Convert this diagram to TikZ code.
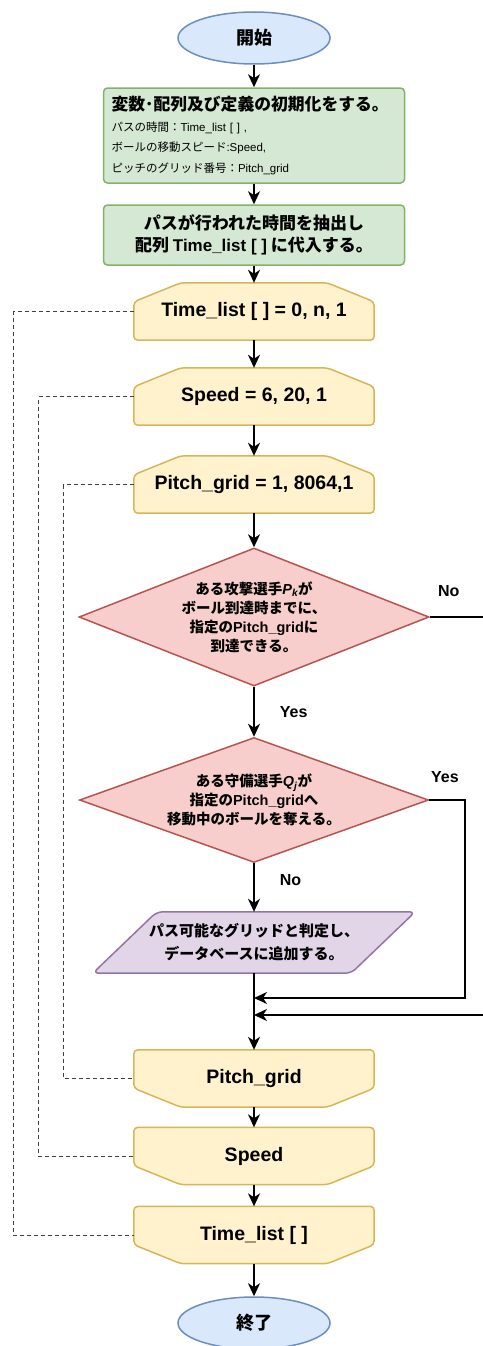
\documentclass[tikz,border=0pt]{standalone}
\usepackage{fontspec}
\setmainfont{Liberation Sans}
\newfontfamily\jp{Noto Sans CJK JP}
\usetikzlibrary{shapes.geometric,arrows.meta,calc,backgrounds}
\definecolor{gfill}{HTML}{D5E8D4}\definecolor{gstroke}{HTML}{82B366}
\definecolor{yfill}{HTML}{FFF2CC}\definecolor{ystroke}{HTML}{D6B656}
\definecolor{rfill}{HTML}{F8CECC}\definecolor{rstroke}{HTML}{B85450}
\definecolor{pfill}{HTML}{E1D5E7}\definecolor{pstroke}{HTML}{9673A6}
\definecolor{bfill}{HTML}{DAE8FC}\definecolor{bstroke}{HTML}{6C8EBF}
\tikzset{
  term/.style={ellipse, draw=bstroke, fill=bfill, line width=1.5pt, minimum width=152pt, minimum height=52pt, inner sep=0pt, font=\jp\bfseries\fontsize{18}{20}\selectfont},
  proc/.style={rectangle, rounded corners=4pt, draw=gstroke, fill=gfill, line width=1.5pt, minimum width=301pt, inner sep=0pt},
  loopbox/.style={rectangle, minimum width=240pt, minimum height=57pt, inner sep=0pt, font=\bfseries\fontsize{19.5}{21}\selectfont},
  loopshape/.style={draw=ystroke, fill=yfill, line width=1.5pt, rounded corners=4pt},
  dec/.style={diamond, draw=rstroke, fill=rfill, line width=1.5pt, inner sep=0pt, aspect=2.6, align=center, font=\jp\bfseries\fontsize{14.5}{19}\selectfont},
  dbbox/.style={rectangle, minimum width=258pt, minimum height=61pt, inner sep=0pt, align=center, font=\jp\bfseries\fontsize{15}{23}\selectfont},
  dbshape/.style={draw=pstroke, fill=pfill, line width=1.5pt, rounded corners=6pt},
  flow/.style={line width=1.8pt, -{Stealth[length=13pt,width=12pt,inset=4pt]}},
  loopline/.style={dash pattern=on 4pt off 3pt, line width=1pt, draw=black!75},
  lab/.style={font=\bfseries\fontsize{16}{18}\selectfont, inner sep=0pt}
}
\begin{document}
\begin{tikzpicture}[x=1pt,y=-1pt]
\useasboundingbox (0,0) rectangle (482,1346);
% nodes
\node[term] (start) at (254,38) {開始};
\node[proc, minimum height=95pt, text width=285pt, align=left, inner xsep=8pt, font=\jp\fontsize{11.5}{20.5}\selectfont] (init) at (254,135.5)
  {{\bfseries\fontsize{16.8}{20}\selectfont 変数･配列及び定義の初期化をする。}\\
   パスの時間：{\rmfamily Time\_list [ ] ,}\\
   ボールの移動スピード{\rmfamily :Speed,}\\
   ピッチのグリッド番号：{\rmfamily Pitch\_grid}};
\node[proc, minimum height=60pt, align=center, font=\jp\bfseries\fontsize{17}{22}\selectfont] (box2) at (254,235)
  {パスが行われた時間を抽出し\\配列 {\rmfamily Time\_list [ ]} に代入する。};
\node[loopbox] (ts) at (254,311.5) {Time\_list [ ] = 0, n, 1};
\node[loopbox] (ss) at (254,396.5) {Speed = 6, 20, 1};
\node[loopbox] (ps) at (254,484.5) {Pitch\_grid = 1, 8064,1};
\node[dec, minimum width=350pt, minimum height=138pt] (d1) at (254,617)
  {ある攻撃選手{\rmfamily\itshape P\textsubscript{k}}が\\ボール到達時までに、\\指定の{\rmfamily Pitch\_grid}に\\到達できる。};
\node[dec, minimum width=349pt, minimum height=125pt] (d2) at (254,800)
  {ある守備選手{\rmfamily\itshape Q\textsubscript{j}}が\\指定の{\rmfamily Pitch\_grid}へ\\移動中のボールを奪える。};
\node[dbbox] (db) at (254,942.5) {パス可能なグリッドと判定し、\\データベースに追加する。};
\node[loopbox] (pe) at (254,1078.5) {Pitch\_grid};
\node[loopbox] (se) at (254,1156) {Speed};
\node[loopbox] (te) at (254,1235) {Time\_list [ ]};
\node[term] (end) at (254,1323) {終了};
\coordinate (j1) at (254,998);
\coordinate (j2) at (254,1015);
\coordinate (r1) at (465,998);
\coordinate (r2) at (484,1015);
% shapes behind loop / io nodes
\begin{scope}[on background layer]
\foreach \n in {ts,ss,ps}{
  \draw[loopshape] ([yshift=-19pt]\n.north west) -- ([xshift=47pt]\n.north west) -- ([xshift=-47pt]\n.north east) -- ([yshift=-19pt]\n.north east) -- (\n.south east) -- (\n.south west) -- cycle;}
\foreach \n in {pe,se,te}{
  \draw[loopshape] (\n.north west) -- (\n.north east) -- ([yshift=19pt]\n.south east) -- ([xshift=-47pt]\n.south east) -- ([xshift=47pt]\n.south west) -- ([yshift=19pt]\n.south west) -- cycle;}
\draw[dbshape] ([xshift=32pt]db.north west) -- ([xshift=32pt]db.north east) -- ([xshift=-32pt]db.south east) -- ([xshift=-32pt]db.south west) -- cycle;
\end{scope}
% connectors
\draw[flow] (start) -- (init);
\draw[flow] (init) -- (box2);
\draw[flow] (box2) -- (ts);
\draw[flow] (ts) -- (ss);
\draw[flow] (ss) -- (ps);
\draw[flow] (ps) -- (d1);
\draw[flow] (d1) -- node[lab, anchor=west, xshift=25pt] {Yes} (d2);
\draw[flow] (d2) -- node[lab, anchor=west, xshift=25pt, pos=0.35] {No} (db);
\draw[flow] (db) -- (pe);
\draw[flow] (pe) -- (se);
\draw[flow] (se) -- (te);
\draw[flow] (te) -- (end);
\draw[flow] (d2.east) -| node[lab, pos=0.22, anchor=south, yshift=16pt] {Yes} (r1) -- (j1);
\draw[flow] (d1.east) -| node[lab, pos=0.175, anchor=south, yshift=19pt] {No} (r2) -- (j2);
% loop links
\draw[loopline] (ts.west) -- ++(-120,0) |- (te.west);
\draw[loopline] (ss.west) -- ++(-95,0) |- (se.west);
\draw[loopline] (ps.west) -- ++(-70,0) |- (pe.west);
\end{tikzpicture}
\end{document}
